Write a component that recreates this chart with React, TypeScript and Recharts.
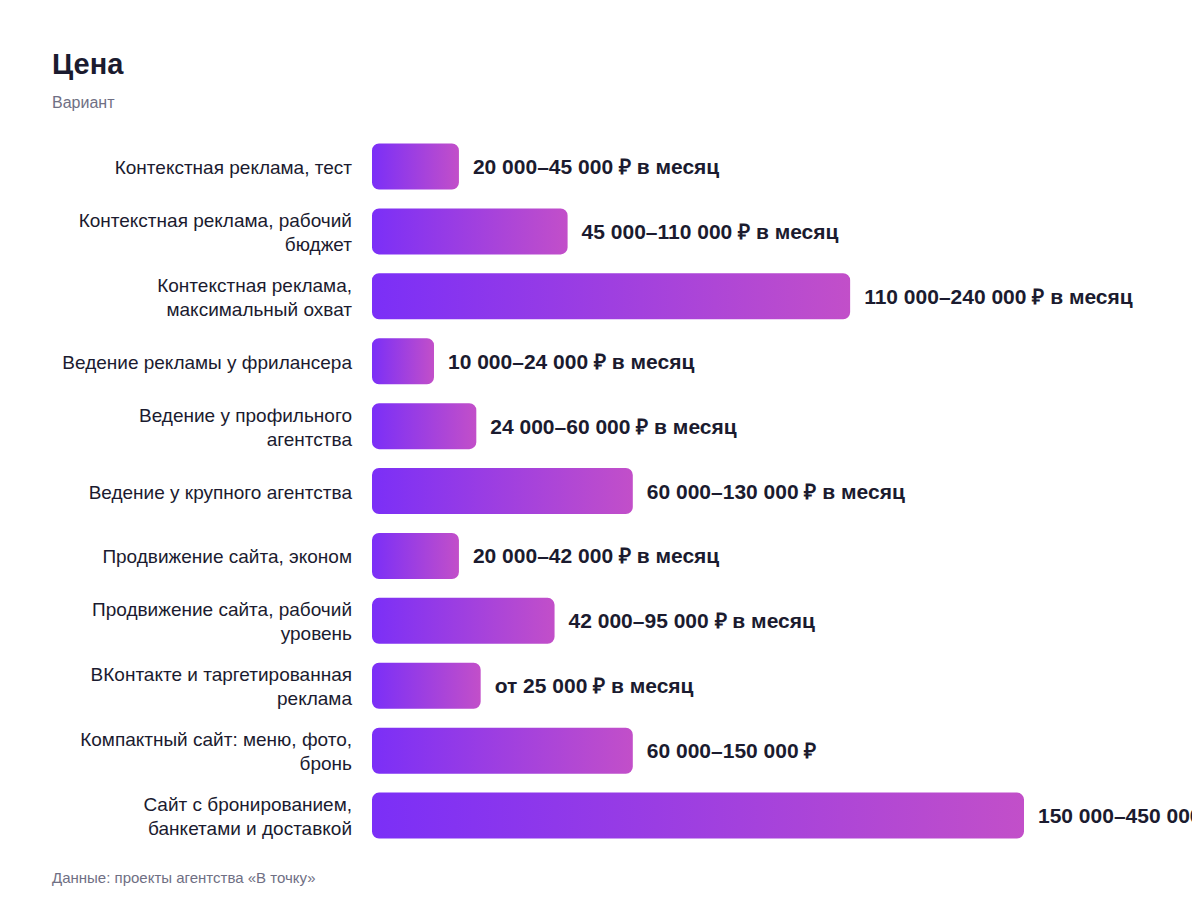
import { BarChart, Bar, XAxis, YAxis, LabelList } from 'recharts';

// переносы строк — как в подписях оригинала
const categories = [
    'Контекстная реклама, тест',
    'Контекстная реклама, рабочий\nбюджет',
    'Контекстная реклама,\nмаксимальный охват',
    'Ведение рекламы у фрилансера',
    'Ведение у профильного\nагентства',
    'Ведение у крупного агентства',
    'Продвижение сайта, эконом',
    'Продвижение сайта, рабочий\nуровень',
    'ВКонтакте и таргетированная\nреклама',
    'Компактный сайт: меню, фото,\nбронь',
    'Сайт с бронированием,\nбанкетами и доставкой',
];

// нижняя граница цены, ₽
const priceFrom = [20000, 45000, 110000, 10000, 24000, 60000, 20000, 42000, 25000, 60000, 150000];

const priceLabels = [
    '20 000–45 000 ₽ в месяц',
    '45 000–110 000 ₽ в месяц',
    '110 000–240 000 ₽ в месяц',
    '10 000–24 000 ₽ в месяц',
    '24 000–60 000 ₽ в месяц',
    '60 000–130 000 ₽ в месяц',
    '20 000–42 000 ₽ в месяц',
    '42 000–95 000 ₽ в месяц',
    'от 25 000 ₽ в месяц',
    '60 000–150 000 ₽',
    '150 000–450 000 ₽',
];

const data = categories.map((name, i) => ({ name, value: priceFrom[i], label: priceLabels[i] }));

const FONT = '"Liberation Sans", Arial, Helvetica, sans-serif';
const INK = '#1b1b2f';
const MUTED = '#6f6f84';

const CategoryTick = ({ x, y, payload }: any) => {
    const lines = String(payload.value).split('\n');
    const lh = 24;
    return (
        <text
            x={x}
            y={y - ((lines.length - 1) * lh) / 2}
            textAnchor="end"
            dominantBaseline="central"
            fill={INK}
            style={{ fontSize: 19, fontFamily: FONT }}
        >
            {lines.map((line, i) => (
                <tspan key={i} x={x} dy={i === 0 ? 0 : lh}>
                    {line}
                </tspan>
            ))}
        </text>
    );
};

const PriceLabel = ({ x, y, width, height, value }: any) => (
    <text
        x={x + width + 14}
        y={y + height / 2}
        dominantBaseline="central"
        fill={INK}
        style={{ fontSize: 21, fontWeight: 700, fontFamily: FONT }}
    >
        {value}
    </text>
);

export default function App() {
    return (
        <div style={{ position: 'relative', width: 1192, height: 896, fontFamily: FONT, overflow: 'hidden' }}>
            <div style={{ position: 'absolute', left: 44, top: 42, fontSize: 29, lineHeight: 1, fontWeight: 700, color: INK }}>
                Цена
            </div>
            <div style={{ position: 'absolute', left: 44, top: 87, fontSize: 16, lineHeight: 1, color: MUTED }}>
                Вариант
            </div>
            <BarChart
                width={1192}
                height={896}
                data={data}
                layout="vertical"
                margin={{ top: 126.5, right: 176, bottom: 55.5, left: 0 }}
            >
                <defs>
                    <linearGradient id="barGrad" x1="0" y1="0" x2="1" y2="0">
                        <stop offset="0%" stopColor="#7b2ff7" />
                        <stop offset="100%" stopColor="#c24fc9" />
                    </linearGradient>
                </defs>
                <XAxis type="number" domain={[0, 150000]} hide />
                <YAxis
                    type="category"
                    dataKey="name"
                    width={364}
                    axisLine={false}
                    tickLine={false}
                    tickSize={6}
                    tickMargin={14}
                    tick={<CategoryTick />}
                    interval={0}
                />
                <Bar dataKey="value" fill="url(#barGrad)" barSize={46} radius={7} minPointSize={62} isAnimationActive={false}>
                    <LabelList dataKey="label" content={<PriceLabel />} />
                </Bar>
            </BarChart>
            <div style={{ position: 'absolute', left: 44, top: 862, fontSize: 15, lineHeight: 1, color: MUTED }}>
                Данные: проекты агентства «В точку»
            </div>
        </div>
    );
}
